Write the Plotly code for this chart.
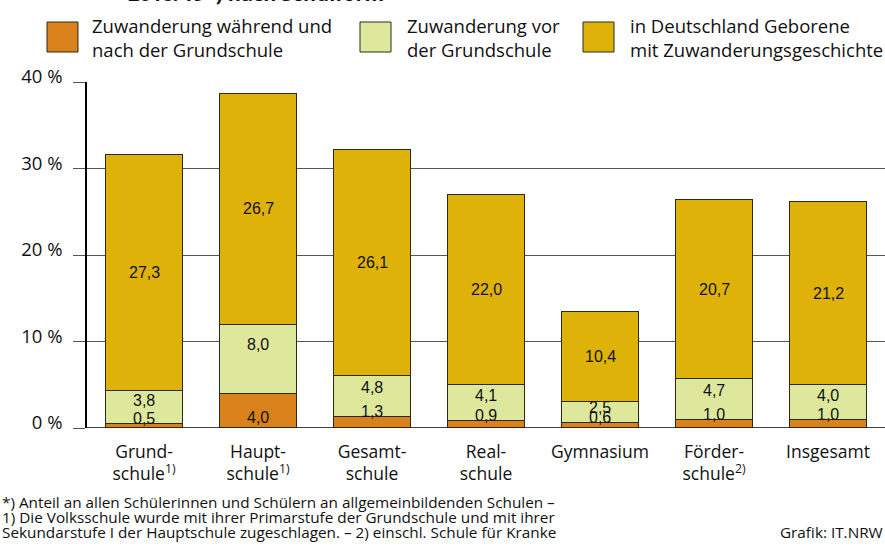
import plotly.graph_objects as go

# ---- data ----
schools = ["Grundschule", "Hauptschule", "Gesamtschule", "Realschule",
           "Gymnasium", "Förderschule", "Insgesamt"]
tick_labels = ["Grund-<br>schule<sup>1)</sup>", "Haupt-<br>schule<sup>1)</sup>",
               "Gesamt-<br>schule", "Real-<br>schule", "Gymnasium",
               "Förder-<br>schule<sup>2)</sup>", "Insgesamt"]
during_after = [0.5, 4.0, 1.3, 0.9, 0.6, 1.0, 1.0]
before = [3.8, 8.0, 4.8, 4.1, 2.5, 4.7, 4.0]
born_de = [27.3, 26.7, 26.1, 22.0, 10.4, 20.7, 21.2]
series_names = ["Zuwanderung während und<br>nach der Grundschule",
                "Zuwanderung vor<br>der Grundschule",
                "in Deutschland Geborene<br>mit Zuwanderungsgeschichte"]
y_ticks = [0, 10, 20, 30, 40]
y_tick_labels = ["0 %", "10 %", "20 %", "30 %", "40 %"]

C_OR = "#D9821B"
C_GR = "#DDE89D"
C_YE = "#DFB20A"
EDGE = "#2b2b1a"
TXT = "#111111"
SANS = "Open Sans, Noto Sans, sans-serif"
ARIAL = "Liberation Sans, Arial, sans-serif"

fig = go.Figure()
for vals, col, nm in [(during_after, C_OR, series_names[0]),
                      (before, C_GR, series_names[1]),
                      (born_de, C_YE, series_names[2])]:
    fig.add_trace(go.Bar(x=schools, y=vals, name=nm, marker_color=col,
                         marker_line=dict(color=EDGE, width=1),
                         showlegend=False, hoverinfo="skip"))

def fmt(v):
    return f"{v:.1f}".replace(".", ",")

ann = []
for i, s in enumerate(schools):
    o, g, y = during_after[i], before[i], born_de[i]
    oy = o + 0.6 if o < 2 else o * 0.3
    ann.append(dict(x=s, y=oy, text=fmt(o), showarrow=False,
                    font=dict(family=ARIAL, size=16, color=TXT)))
    ann.append(dict(x=s, y=o + 0.7 * g, text=fmt(g), showarrow=False,
                    font=dict(family=ARIAL, size=16, color=TXT)))
    ann.append(dict(x=s, y=o + g + y / 2, text=fmt(y), showarrow=False,
                    font=dict(family=ARIAL, size=16, color=TXT)))

# ---- legend (drawn manually) ----
W, L, T, H = 798, 87, 82, 346
def px(xp):
    return (xp - L) / W
def py(yp):
    return (T + H - yp) / H

shapes = []
for (x0, col, tx), nm in zip([(47, C_OR, 90), (360, C_GR, 405), (583, C_YE, 628)],
                             series_names):
    shapes.append(dict(type="rect", xref="paper", yref="paper",
                       x0=px(x0), x1=px(x0 + 31), y0=py(52), y1=py(22),
                       fillcolor=col, line=dict(color=EDGE, width=1)))
    ann.append(dict(xref="paper", yref="paper", x=px(tx), y=py(37),
                    xanchor="left", yanchor="middle", align="left",
                    text=nm, showarrow=False,
                    font=dict(family=SANS, size=18.5, color=TXT)))

# title (cut off at the top edge, as in the reference)
ann.append(dict(xref="paper", yref="paper", x=px(126), y=py(-7),
                xanchor="left", yanchor="middle",
                text="<b>2018/19*) nach Schulform</b>",
                showarrow=False, font=dict(family=SANS, size=20, color=TXT)))

# footnotes
foot = ["*) Anteil an allen Schülerinnen und Schülern an allgemeinbildenden Schulen –",
        "1) Die Volksschule wurde mit ihrer Primarstufe der Grundschule und mit ihrer",
        "Sekundarstufe I der Hauptschule zugeschlagen. – 2) einschl. Schule für Kranke"]
for k, line in enumerate(foot):
    ann.append(dict(xref="paper", yref="paper", x=px(0), y=py(502 + 15 * k),
                    xanchor="left", yanchor="middle", text=line, showarrow=False,
                    font=dict(family=SANS, size=15.3, color=TXT)))
ann.append(dict(xref="paper", yref="paper", x=px(885), y=py(532),
                xanchor="right", yanchor="middle", text="Grafik: IT.NRW",
                showarrow=False, font=dict(family=SANS, size=15.3, color=TXT)))

# zero baseline
shapes.append(dict(type="line", xref="paper", yref="y", x0=0, x1=1, y0=0, y1=0,
                   line=dict(color="#000000", width=1.5), layer="above"))

fig.update_layout(
    barmode="stack", bargap=0.325,
    width=885, height=556,
    margin=dict(l=87, r=0, t=82, b=128, pad=0, autoexpand=False),
    plot_bgcolor="white", paper_bgcolor="white",
    annotations=ann, shapes=shapes,
    xaxis=dict(tickmode="array", tickvals=schools, ticktext=tick_labels,
               showgrid=False, showline=False, ticks="", automargin=False,
               tickfont=dict(family=SANS, size=17.5, color=TXT),
               ticklabelstandoff=11,
               range=[-0.5, 6.5], fixedrange=True),
    yaxis=dict(range=[0, 40], tickmode="array", tickvals=y_ticks,
               ticktext=y_tick_labels, automargin=False,
               showgrid=True, gridcolor="#555555", gridwidth=1.4,
               showline=True, linecolor="#000000", linewidth=1.5,
               ticks="outside", ticklen=12, tickcolor="#555555", tickwidth=1.4,
               tickfont=dict(family=SANS, size=18.5, color=TXT),
               ticklabelstandoff=7, ticklabelshift=-5,
               zeroline=False, fixedrange=True),
    font=dict(family=SANS, color=TXT),
)

fig.write_html("out.html", config={"displayModeBar": False},
               post_script="document.body.style.margin='0';document.body.style.overflow='hidden';")
